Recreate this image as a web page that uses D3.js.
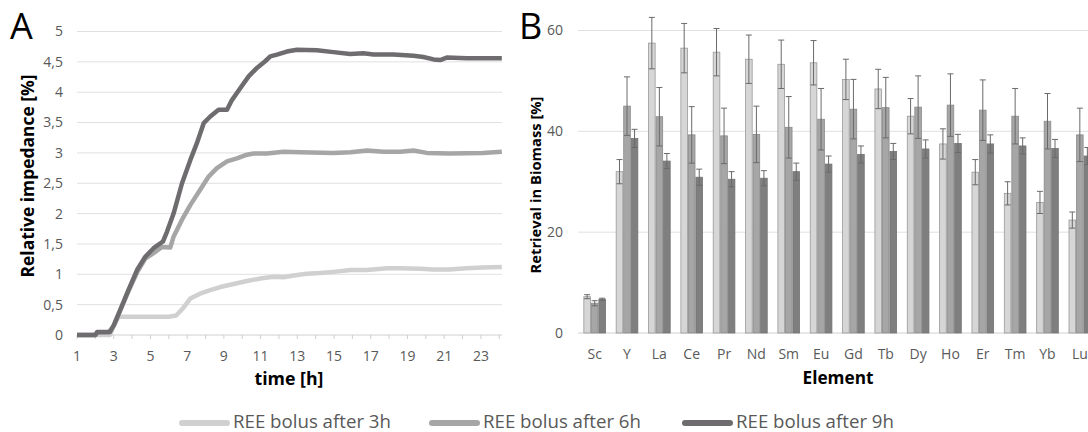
<!DOCTYPE html>
<html>
<head>
<meta charset="utf-8">
<script src="https://cdn.jsdelivr.net/npm/d3@7"></script>
<style>
  body { margin: 0; background: #fff; }
  text { font-family: "Open Sans", sans-serif; }
</style>
</head>
<body>
<div id="chart"></div>
<script>
/* Panel A: impedance curves (time in h, value in %). */
const hours3h = [1, 2.8, 3.0, 3.27, 4, 5, 6, 6.4, 6.8, 7.17, 7.7, 8.26, 8.8, 9.53, 10.26, 10.98, 11.7, 12.25, 12.8, 13.52, 14.25, 14.97, 15.9, 16.8, 17.9, 18.6, 19.7, 20.4, 21.3, 22.2, 23.1, 24.14]
const imp3h = [0, 0, 0.15, 0.3, 0.3, 0.3, 0.3, 0.32, 0.45, 0.6, 0.68, 0.74, 0.79, 0.84, 0.89, 0.93, 0.96, 0.95, 0.98, 1.01, 1.02, 1.04, 1.07, 1.07, 1.1, 1.1, 1.09, 1.08, 1.08, 1.1, 1.11, 1.12]

const hours6h = [1, 2.0, 2.1, 2.7, 3.0, 3.35, 3.8, 4.27, 4.72, 5.17, 5.63, 6.08, 6.26, 6.72, 7.17, 7.7, 8.17, 8.62, 9.17, 9.71, 10.26, 10.62, 11.34, 12.25, 13.16, 14.97, 15.9, 16.8, 17.7, 18.6, 19.33, 20.05, 21.3, 23.1, 24.14]
const imp6h = [0, 0, 0.04, 0.04, 0.15, 0.4, 0.72, 1.03, 1.26, 1.35, 1.45, 1.44, 1.62, 1.9, 2.14, 2.39, 2.61, 2.75, 2.86, 2.91, 2.97, 2.99, 2.99, 3.02, 3.01, 3.0, 3.01, 3.04, 3.02, 3.02, 3.04, 3.0, 2.99, 3.0, 3.02]

const hours9h = [1, 2.0, 2.1, 2.8, 3.0, 3.35, 3.8, 4.27, 4.72, 5.17, 5.68, 5.9, 6.26, 6.72, 7.17, 7.53, 7.9, 8.26, 8.71, 9.17, 9.44, 9.9, 10.35, 10.8, 11.25, 11.53, 11.89, 12.43, 12.98, 14.07, 14.97, 15.88, 16.6, 17.15, 18.24, 19.33, 19.87, 20.42, 20.78, 21.14, 22.23, 24.14]
const imp9h = [0, 0, 0.05, 0.05, 0.16, 0.41, 0.74, 1.07, 1.29, 1.43, 1.54, 1.7, 2.0, 2.5, 2.88, 3.16, 3.49, 3.6, 3.71, 3.71, 3.87, 4.07, 4.26, 4.4, 4.51, 4.59, 4.62, 4.67, 4.7, 4.69, 4.66, 4.63, 4.64, 4.62, 4.62, 4.6, 4.58, 4.54, 4.53, 4.57, 4.56, 4.56]

const impTicks = [0, 0.5, 1, 1.5, 2, 2.5, 3, 3.5, 4, 4.5, 5]
const hourLabels = [1, 3, 5, 7, 9, 11, 13, 15, 17, 19, 21, 23]

/* Panel B: retrieval in biomass (%), mean and error per element. */
const elements = ["Sc", "Y", "La", "Ce", "Pr", "Nd", "Sm", "Eu", "Gd", "Tb", "Dy", "Ho", "Er", "Tm", "Yb", "Lu"]
const retr3h = [7.2, 32.0, 57.5, 56.5, 55.7, 54.3, 53.3, 53.6, 50.3, 48.4, 43.0, 37.5, 31.9, 27.7, 25.9, 22.4]
const err3h = [0.4, 2.4, 5.1, 4.9, 4.7, 4.8, 4.8, 4.4, 4.0, 3.9, 3.5, 3.0, 2.5, 2.3, 2.2, 1.6]
const retr6h = [5.9, 45.0, 42.9, 39.3, 39.1, 39.4, 40.8, 42.4, 44.4, 44.7, 44.8, 45.2, 44.2, 43.0, 42.0, 39.3]
const err6h = [0.5, 5.8, 5.8, 5.6, 5.5, 5.6, 6.1, 6.1, 5.9, 6.0, 6.2, 6.2, 6.0, 5.5, 5.5, 5.3]
const retr9h = [6.7, 38.6, 34.1, 30.9, 30.5, 30.7, 32.0, 33.5, 35.4, 36.0, 36.5, 37.6, 37.5, 37.1, 36.6, 35.1]
const err9h = [0.2, 1.8, 1.5, 1.6, 1.5, 1.5, 1.7, 1.6, 1.7, 1.6, 1.8, 1.8, 1.8, 1.6, 1.8, 1.7]
const retrTicks = [0, 20, 40, 60]

const seriesNames = ["REE bolus after 3h", "REE bolus after 6h", "REE bolus after 9h"]

/* Colours. */
const lineColors = ["#d0d0d0", "#a6a6a6", "#6e6c6e"]
const barColors = ["#d6d6d6", "#a6a6a6", "#7f7f7f"]
const barStrokes = ["#999999", "#8a8a8a", "#737373"]
const tickColor = "#595959"
const gridColor = "#e0e0e0"

const width = 1088
const height = 432

const svg = d3.select("#chart")
  .append("svg")
  .attr("width", width)
  .attr("height", height)

svg.append("rect")
  .attr("width", width)
  .attr("height", height)
  .attr("fill", "#fff")

/* Scale a text's font size so it spans the given length. */
function fitText(sel, target) {
  sel.each(function () {
    const fs = parseFloat(this.getAttribute("font-size"))
    const len = this.getComputedTextLength()
    if (len > 0) this.setAttribute("font-size", (fs * target / len).toFixed(2))
  })
}

/* ---------- Panel A ---------- */
const xA = d3.scaleLinear().domain([1, 24.15]).range([77, 502])
const yA = d3.scaleLinear().domain([0, 5]).range([335, 31.5])

const panelA = svg.append("g")

panelA.selectAll("line.grid")
  .data(impTicks)
  .enter()
  .append("line")
  .attr("class", "grid")
  .attr("x1", xA(1))
  .attr("x2", xA(24.15))
  .attr("y1", d => yA(d))
  .attr("y2", d => yA(d))
  .attr("stroke", d => d === 0 ? "#d0d0d0" : gridColor)
  .attr("stroke-width", 1)

/* Hourly tick marks under the axis. */
panelA.selectAll("line.tick")
  .data(d3.range(1, 25))
  .enter()
  .append("line")
  .attr("class", "tick")
  .attr("x1", d => xA(d))
  .attr("x2", d => xA(d))
  .attr("y1", yA(0))
  .attr("y2", yA(0) + 4)
  .attr("stroke", "#d0d0d0")

panelA.selectAll("text.ylab")
  .data(impTicks)
  .enter()
  .append("text")
  .attr("class", "ylab")
  .attr("x", 63)
  .attr("y", d => yA(d))
  .attr("dy", "0.35em")
  .attr("text-anchor", "end")
  .attr("font-size", 14)
  .attr("fill", tickColor)
  .text(d => String(d).replace(".", ","))

panelA.selectAll("text.xlab")
  .data(hourLabels)
  .enter()
  .append("text")
  .attr("class", "xlab")
  .attr("x", d => xA(d))
  .attr("y", 356)
  .attr("dy", "0.35em")
  .attr("text-anchor", "middle")
  .attr("font-size", 14)
  .attr("fill", tickColor)
  .text(d => d)

const lineA = d3.line()
  .x(d => xA(d[0]))
  .y(d => yA(d[1]))

const curves = [
  d3.zip(hours3h, imp3h),
  d3.zip(hours6h, imp6h),
  d3.zip(hours9h, imp9h)
]

panelA.selectAll("path.curve")
  .data(curves)
  .enter()
  .append("path")
  .attr("class", "curve")
  .attr("d", lineA)
  .attr("fill", "none")
  .attr("stroke", (d, i) => lineColors[i])
  .attr("stroke-width", 4.5)
  .attr("stroke-linejoin", "round")

panelA.append("text")
  .attr("x", 10)
  .attr("y", 39)
  .attr("font-size", 36)
  .attr("fill", "#000")
  .text("A")

panelA.append("text")
  .attr("transform", "translate(28, 176) rotate(-90)")
  .attr("dy", "0.35em")
  .attr("text-anchor", "middle")
  .attr("font-size", 17)
  .attr("font-weight", "bold")
  .attr("fill", "#000")
  .text("Relative impedance [%]")
  .call(fitText, 203)

panelA.append("text")
  .attr("x", 289)
  .attr("y", 379)
  .attr("dy", "0.35em")
  .attr("text-anchor", "middle")
  .attr("font-size", 17)
  .attr("font-weight", "bold")
  .attr("fill", "#000")
  .text("time [h]")
  .call(fitText, 69)

/* ---------- Panel B ---------- */
const xB = d3.scaleBand()
  .domain(elements)
  .range([578.5, 1096])
  .paddingInner(0.33)
  .paddingOuter(0.165)

const xSub = d3.scaleBand()
  .domain([0, 1, 2])
  .range([0, xB.bandwidth()])
  .paddingInner(0.12)

const yB = d3.scaleLinear().domain([0, 60]).range([333, 30.5])

const panelB = svg.append("g")

panelB.selectAll("line.grid")
  .data(retrTicks)
  .enter()
  .append("line")
  .attr("class", "grid")
  .attr("x1", 578)
  .attr("x2", width)
  .attr("y1", d => yB(d))
  .attr("y2", d => yB(d))
  .attr("stroke", d => d === 0 ? "#d0d0d0" : gridColor)

panelB.selectAll("text.ylab")
  .data(retrTicks)
  .enter()
  .append("text")
  .attr("class", "ylab")
  .attr("x", 563)
  .attr("y", d => yB(d))
  .attr("dy", "0.35em")
  .attr("text-anchor", "end")
  .attr("font-size", 14)
  .attr("fill", tickColor)
  .text(d => d)

panelB.selectAll("text.xlab")
  .data(elements)
  .enter()
  .append("text")
  .attr("class", "xlab")
  .attr("x", d => xB(d) + xB.bandwidth() / 2)
  .attr("y", 354)
  .attr("dy", "0.35em")
  .attr("text-anchor", "middle")
  .attr("font-size", 14)
  .attr("fill", tickColor)
  .text(d => d)

/* Flatten bar data. */
const means = [retr3h, retr6h, retr9h]
const errs = [err3h, err6h, err9h]
const bars = []
elements.forEach((el, i) => {
  means.forEach((m, s) => {
    bars.push({ el: el, s: s, v: m[i], e: errs[s][i] })
  })
})

panelB.selectAll("rect.bar")
  .data(bars)
  .enter()
  .append("rect")
  .attr("class", "bar")
  .attr("x", d => xB(d.el) + xSub(d.s))
  .attr("y", d => yB(d.v))
  .attr("width", xSub.bandwidth())
  .attr("height", d => yB(0) - yB(d.v))
  .attr("fill", d => barColors[d.s])
  .attr("stroke", d => barStrokes[d.s])
  .attr("stroke-width", 0.8)

const errG = panelB.selectAll("g.err")
  .data(bars)
  .enter()
  .append("g")
  .attr("class", "err")
  .attr("stroke", "#6a6a6a")
  .attr("stroke-width", 1)

errG.append("line")
  .attr("x1", d => xB(d.el) + xSub(d.s) + xSub.bandwidth() / 2)
  .attr("x2", d => xB(d.el) + xSub(d.s) + xSub.bandwidth() / 2)
  .attr("y1", d => yB(d.v + d.e))
  .attr("y2", d => yB(d.v - d.e))

errG.selectAll("line.cap")
  .data(d => [d.v + d.e, d.v - d.e].map(v => ({ d: d, v: v })))
  .enter()
  .append("line")
  .attr("class", "cap")
  .attr("x1", c => xB(c.d.el) + xSub(c.d.s) + xSub.bandwidth() / 2 - 3)
  .attr("x2", c => xB(c.d.el) + xSub(c.d.s) + xSub.bandwidth() / 2 + 3)
  .attr("y1", c => yB(c.v))
  .attr("y2", c => yB(c.v))

panelB.append("text")
  .attr("x", 519)
  .attr("y", 39)
  .attr("font-size", 36)
  .attr("fill", "#000")
  .text("B")

panelB.append("text")
  .attr("transform", "translate(536, 185) rotate(-90)")
  .attr("dy", "0.35em")
  .attr("text-anchor", "middle")
  .attr("font-size", 15)
  .attr("font-weight", "bold")
  .attr("fill", "#000")
  .text("Retrieval in Biomass [%]")
  .call(fitText, 177)

panelB.append("text")
  .attr("x", 838)
  .attr("y", 378)
  .attr("dy", "0.35em")
  .attr("text-anchor", "middle")
  .attr("font-size", 17)
  .attr("font-weight", "bold")
  .attr("fill", "#000")
  .text("Element")
  .call(fitText, 71)

/* ---------- Legend ---------- */
const legendX = [180, 430, 683]
const legend = svg.append("g")

const item = legend.selectAll("g")
  .data(seriesNames)
  .enter()
  .append("g")
  .attr("transform", (d, i) => `translate(${legendX[i]}, 421)`)

item.append("line")
  .attr("x1", 2)
  .attr("x2", 47)
  .attr("y1", 2)
  .attr("y2", 2)
  .attr("stroke", (d, i) => lineColors[i])
  .attr("stroke-width", 6)
  .attr("stroke-linecap", "round")

item.append("text")
  .attr("x", 53)
  .attr("dy", "0.35em")
  .attr("font-size", 18)
  .attr("fill", tickColor)
  .text(d => d)
  .call(fitText, 158)
</script>
</body>
</html>
